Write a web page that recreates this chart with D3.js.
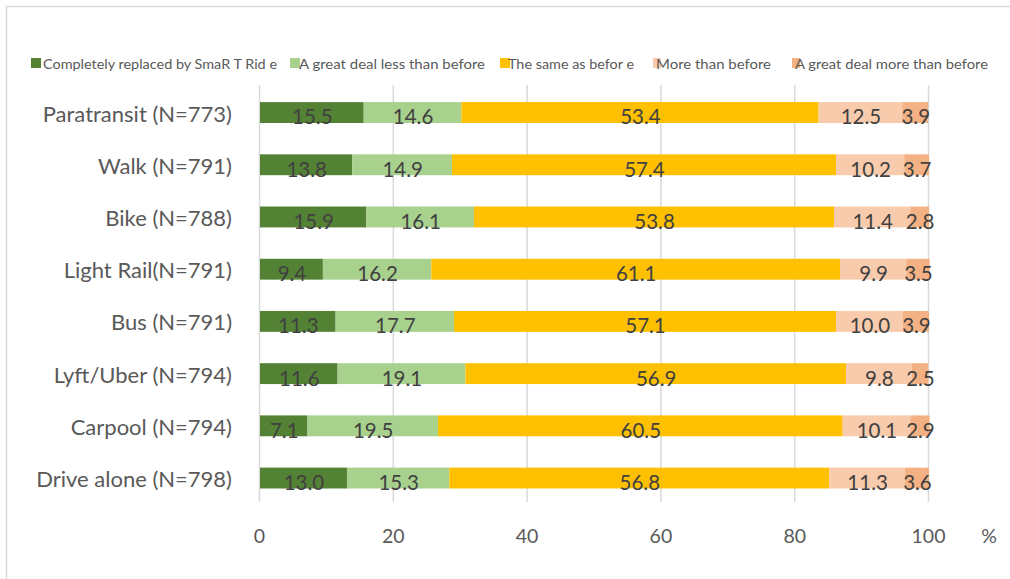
<!DOCTYPE html>
<html>
<head>
<meta charset="utf-8">
<script src="https://cdn.jsdelivr.net/npm/d3@7"></script>
<style>
  html, body { margin: 0; padding: 0; background: #fff; }
  svg { display: block; }
  text { font-family: Lato, "Noto Sans", sans-serif; }
</style>
</head>
<body>
<svg id="chart" width="1010" height="579"></svg>
<script>
const categories = ["Paratransit (N=773)", "Walk (N=791)", "Bike (N=788)", "Light Rail(N=791)",
  "Bus (N=791)", "Lyft/Uber (N=794)", "Carpool (N=794)", "Drive alone (N=798)"];
const seriesNames = ["Completely replaced by SmaR T Rid e", "A great deal less than before",
  "The same as befor e", "More than before", "A great deal more than before"];
const replaced = [15.5, 13.8, 15.9, 9.4, 11.3, 11.6, 7.1, 13.0];
const greatDealLess = [14.6, 14.9, 16.1, 16.2, 17.7, 19.1, 19.5, 15.3];
const sameAsBefore = [53.4, 57.4, 53.8, 61.1, 57.1, 56.9, 60.5, 56.8];
const moreThanBefore = [12.5, 10.2, 11.4, 9.9, 10.0, 9.8, 10.1, 11.3];
const greatDealMore = [3.9, 3.7, 2.8, 3.5, 3.9, 2.5, 2.9, 3.6];
const xTicks = [0, 20, 40, 60, 80, 100];
const colors = ["#548235", "#A9D18E", "#FFC000", "#F8CBAD", "#F4B183"];

const seriesValues = [replaced, greatDealLess, sameAsBefore, moreThanBefore, greatDealMore];
const keys = ["s0", "s1", "s2", "s3", "s4"];
const table = categories.map((c, i) => {
  const row = { cat: c };
  keys.forEach((k, j) => row[k] = seriesValues[j][i]);
  return row;
});
const stacked = d3.stack().keys(keys)(table);

const svg = d3.select("#chart");

// chart frame
svg.append("rect").attr("x", 6.5).attr("y", 6.5).attr("width", 1100).attr("height", 700)
  .attr("fill", "none").attr("stroke", "#d9d9d9").attr("stroke-width", 1.5);

const x = d3.scaleLinear().domain([0, 100]).range([259.5, 928.5]);
const y = d3.scaleBand().domain(categories).range([76, 514.6]).paddingInner(0.6).paddingOuter(0.5);

// gridlines
svg.append("g").selectAll("line").data(xTicks).join("line")
  .attr("x1", d => x(d)).attr("x2", d => x(d))
  .attr("y1", 85).attr("y2", 502)
  .attr("stroke", "#d9d9d9").attr("stroke-width", 1.5);

// bars
const layers = svg.append("g").selectAll("g").data(stacked).join("g")
  .attr("fill", (d, i) => colors[i]);
layers.selectAll("rect").data(d => d).join("rect")
  .attr("x", d => x(d[0]) + 0.5)
  .attr("y", d => y(d.data.cat))
  .attr("width", d => Math.max(0, x(d[1]) - x(d[0])))
  .attr("height", y.bandwidth());

// value labels
const labels = svg.append("g").selectAll("g").data(stacked).join("g");
labels.selectAll("text").data(d => d.map(p => ({ p, key: d.key }))).join("text")
  .attr("x", d => (x(d.p[0]) + x(d.p[1])) / 2 + 1)
  .attr("y", d => y(d.p.data.cat) + y.bandwidth() + 1.5)
  .attr("text-anchor", "middle")
  .attr("font-size", 20.5)
  .attr("fill", "#404040")
  .text(d => d.p.data[d.key].toFixed(1));

// category labels
svg.append("g").selectAll("text").data(categories).join("text")
  .attr("x", 232)
  .attr("y", d => y(d) + y.bandwidth() / 2 + 9)
  .attr("text-anchor", "end")
  .attr("font-size", 22)
  .attr("fill", "#595959")
  .text(d => d);

// x axis tick labels
svg.append("g").selectAll("text").data(xTicks).join("text")
  .attr("x", d => x(d))
  .attr("y", 543)
  .attr("text-anchor", "middle")
  .attr("font-size", 19.5)
  .attr("fill", "#595959")
  .text(d => d);
svg.append("text").attr("x", 989).attr("y", 543).attr("text-anchor", "middle")
  .attr("font-size", 19.5).attr("fill", "#595959").text("%");

// legend
const legendX = [31, 290, 500, 653, 792];
const legendTextX = [43, 299, 508, 656, 795];
const legendW = [234, 186, 126, 115, 193];
const lg = svg.append("g").selectAll("g").data(seriesNames).join("g");
lg.append("rect")
  .attr("x", (d, i) => legendX[i]).attr("y", 58)
  .attr("width", (d, i) => i < 3 ? 10 : 8).attr("height", 10)
  .attr("fill", (d, i) => colors[i]);
lg.append("text")
  .attr("x", (d, i) => legendTextX[i]).attr("y", 68.5)
  .attr("font-size", 14)
  .attr("fill", "#595959")
  .attr("textLength", (d, i) => legendW[i])
  .attr("lengthAdjust", "spacingAndGlyphs")
  .text(d => d);
</script>
</body>
</html>
